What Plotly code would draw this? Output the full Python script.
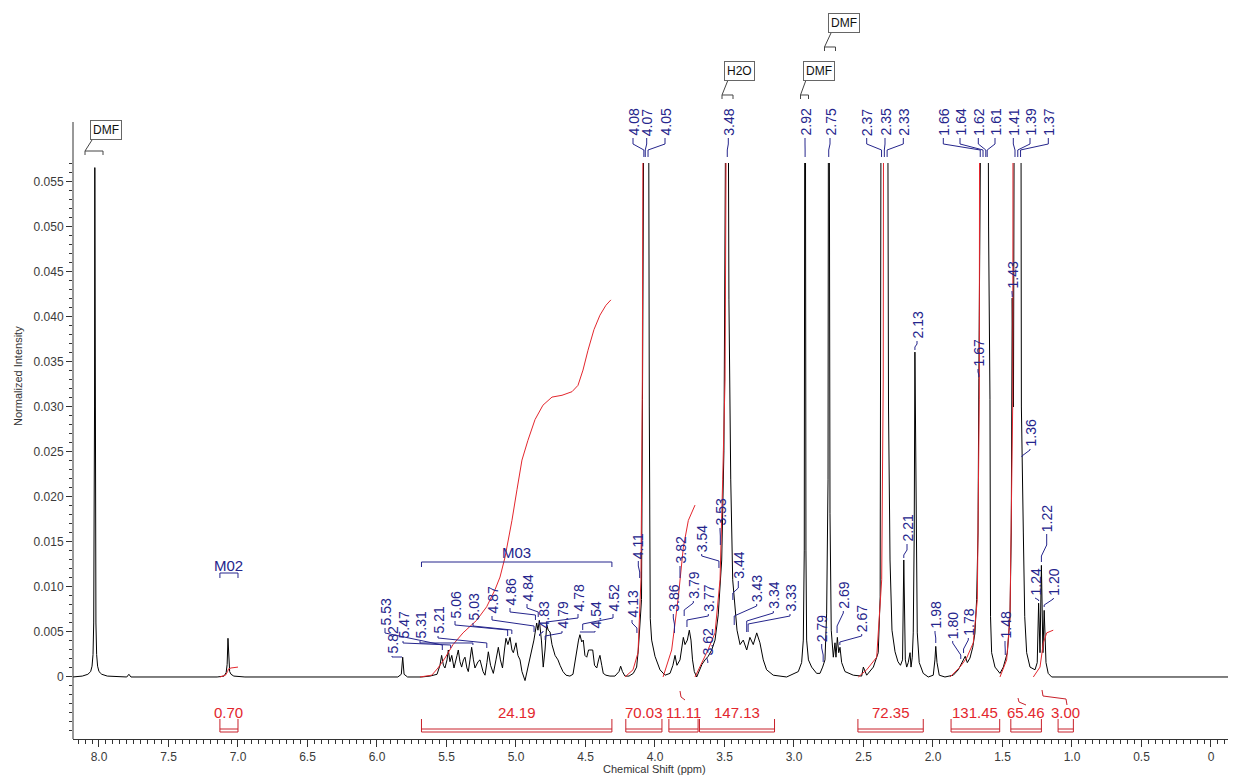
import plotly.graph_objects as go

# ---------------- data ----------------
# 1H spectrum trace (ppm, normalized intensity); tall peaks run off the top
shift_ppm = [
    8.19, 8.12, 8.08, 8.06, 8.05, 8.043, 8.038, 8.035, 8.032, 8.030, 8.028, 8.025, 8.022, 8.017, 8.010, 8.00, 7.98, 7.94,
    7.80, 7.785, 7.77,
    7.15, 7.10, 7.085, 7.078, 7.072, 7.066, 7.06, 7.05, 7.03, 6.95,
    5.85, 5.825, 5.815, 5.805, 5.78,
    5.68, 5.619, 5.568, 5.547, 5.535, 5.522, 5.511, 5.496, 5.487, 5.475,
    5.462, 5.446, 5.424, 5.415, 5.403, 5.391, 5.378, 5.367, 5.353, 5.343,
    5.331, 5.319, 5.306, 5.295, 5.273, 5.259, 5.237, 5.223, 5.209, 5.199,
    5.183, 5.163, 5.144, 5.127, 5.112, 5.097, 5.083, 5.072, 5.058, 5.043,
    5.029, 5.019, 5.000, 4.986, 4.971, 4.957, 4.935, 4.914, 4.887, 4.871,
    4.851, 4.842, 4.832, 4.817, 4.804, 4.791, 4.779, 4.768, 4.755, 4.741,
    4.719, 4.698, 4.683, 4.662, 4.640, 4.612, 4.590, 4.563, 4.550, 4.540,
    4.527, 4.516, 4.504, 4.491, 4.478, 4.468, 4.448, 4.435, 4.419, 4.406,
    4.396, 4.383, 4.372, 4.353, 4.324, 4.288, 4.259, 4.247, 4.234, 4.216,
    4.187, 4.156, 4.132, 4.120, 4.108, 4.097, 4.090, 4.080, 4.075, 4.070,
    4.061, 4.050, 4.041, 4.034, 4.024, 4.000, 3.964, 3.928,
    3.892, 3.871, 3.856, 3.842, 3.820, 3.796, 3.784, 3.767, 3.753, 3.741,
    3.730, 3.717, 3.700, 3.676, 3.662, 3.640, 3.617, 3.592, 3.568, 3.545,
    3.520, 3.504, 3.493, 3.480, 3.468, 3.455, 3.441, 3.424, 3.410, 3.388,
    3.365, 3.340, 3.317, 3.293, 3.268, 3.245, 3.221, 3.197, 3.149, 3.053,
    2.969, 2.945, 2.933, 2.926, 2.920, 2.914, 2.909, 2.896, 2.873, 2.837,
    2.813, 2.794, 2.777, 2.765, 2.755, 2.750, 2.741, 2.732, 2.717, 2.705,
    2.698, 2.688, 2.678, 2.669, 2.657, 2.633, 2.573, 2.513, 2.501, 2.477,
    2.429, 2.394, 2.380, 2.370, 2.360, 2.350, 2.340, 2.330, 2.320, 2.309,
    2.295, 2.273, 2.252, 2.234, 2.219, 2.210, 2.199, 2.189, 2.178, 2.165,
    2.158, 2.149, 2.142, 2.135, 2.130, 2.122, 2.113, 2.099, 2.070, 2.034,
    1.998, 1.986, 1.980, 1.971, 1.955, 1.914, 1.854, 1.818, 1.794, 1.782,
    1.768, 1.753, 1.734, 1.714, 1.698, 1.686, 1.676, 1.670, 1.665, 1.660,
    1.651, 1.640, 1.630, 1.620, 1.615, 1.610, 1.600, 1.590, 1.586, 1.578,
    1.554, 1.518, 1.494, 1.482, 1.465, 1.446, 1.437, 1.430, 1.421, 1.410,
    1.400, 1.390, 1.380, 1.370, 1.364, 1.360, 1.350, 1.340, 1.326, 1.302,
    1.266, 1.250, 1.240, 1.230, 1.220, 1.209, 1.200, 1.187, 1.171, 1.146,
    -0.18,
]
intensity = [
    0.0, 0.0001, 0.0003, 0.0006, 0.0012, 0.0025, 0.0060, 0.0130, 0.0300, 0.0566, 0.0300, 0.0130, 0.0060, 0.0025, 0.0012, 0.0006, 0.0003, 0.0001,
    0.0, 0.0003, 0.0,
    0.0, 0.0001, 0.0005, 0.0014, 0.0043, 0.0014, 0.0006, 0.0003, 0.0001, 0.0,
    0.0, 0.0003, 0.0022, 0.0003, 0.0,
    0.0, 0.0001, 0.0003, 0.0013, 0.0024, 0.0013, 0.0010, 0.0019, 0.0030, 0.0017,
    0.0024, 0.0010, 0.0024, 0.0030, 0.0017, 0.0011, 0.0019, 0.0022, 0.0010, 0.0006,
    0.0019, 0.0033, 0.0019, 0.0010, 0.0017, 0.0019, 0.0006, 0.0002, 0.0016, 0.0028,
    0.0013, 0.0004, 0.0019, 0.0033, 0.0019, 0.0010, 0.0030, 0.0043, 0.0036, 0.0044,
    0.0030, 0.0027, 0.0038, 0.0024, 0.0019, 0.0006, -0.0004, 0.0010, 0.0030, 0.0041,
    0.0060, 0.0052, 0.0063, 0.0041, 0.0011, 0.0030, 0.0058, 0.0052, 0.0050, 0.0036,
    0.0024, 0.0019, 0.0013, 0.0006, 0.0002, 0.0001, 0.0003, 0.0030, 0.0041, 0.0047,
    0.0039, 0.0041, 0.0024, 0.0022, 0.0030, 0.0030, 0.0030, 0.0013, 0.0010, 0.0019,
    0.0024, 0.0013, 0.0004, 0.0002, 0.0001, 0.0001, 0.0006, 0.0012, 0.0006, 0.0001,
    0.0001, 0.0004, 0.0011, 0.0030, 0.0058, 0.0086, 0.0308, 0.1000, 0.0750, 0.1000,
    0.0750, 0.1000, 0.0300, 0.0065, 0.0041, 0.0023, 0.0008, 0.0002,
    0.0004, 0.0013, 0.0024, 0.0013, 0.0019, 0.0044, 0.0036, 0.0041, 0.0052, 0.0041,
    0.0019, 0.0006, 0.0000, 0.0008, 0.0014, 0.0019, 0.0023, 0.0030, 0.0041, 0.0069,
    0.0130, 0.0252, 0.0419, 0.1000, 0.0419, 0.0219, 0.0108, 0.0071, 0.0052, 0.0036,
    0.0041, 0.0030, 0.0044, 0.0036, 0.0049, 0.0038, 0.0019, 0.0008, 0.0002, 0.0000,
    0.0006, 0.0016, 0.0041, 0.0141, 0.1000, 0.0141, 0.0041, 0.0019, 0.0011, 0.0004,
    0.0004, 0.0011, 0.0019, 0.0071, 0.0219, 0.1000, 0.0182, 0.0052, 0.0022, 0.0038,
    0.0022, 0.0044, 0.0027, 0.0033, 0.0016, 0.0006, 0.0002, 0.0001, 0.0011, 0.0002,
    0.0011, 0.0027, 0.0089, 0.1000, 0.0700, 0.1000, 0.0700, 0.1000, 0.0300, 0.0130,
    0.0052, 0.0028, 0.0017, 0.0013, 0.0019, 0.0130, 0.0019, 0.0011, 0.0016, 0.0027,
    0.0011, 0.0022, 0.0049, 0.0160, 0.0361, 0.0160, 0.0049, 0.0016, 0.0004, 0.0000,
    0.0002, 0.0019, 0.0034, 0.0016, 0.0002, 0.0000, 0.0002, 0.0008, 0.0016, 0.0019,
    0.0023, 0.0016, 0.0021, 0.0033, 0.0049, 0.0086, 0.0160, 0.0332, 0.0600, 0.1000,
    0.0700, 0.1000, 0.0700, 0.1000, 0.0800, 0.1000, 0.0500, 0.0308, 0.0067, 0.0027,
    0.0011, 0.0004, 0.0011, 0.0019, 0.0027, 0.0067, 0.0160, 0.0421, 0.0300, 0.1000,
    0.0700, 0.1000, 0.0700, 0.1000, 0.0300, 0.0243, 0.0160, 0.0067, 0.0027, 0.0011,
    0.0008, 0.0016, 0.0082, 0.0027, 0.0124, 0.0027, 0.0074, 0.0016, 0.0004, 0.0000,
    0.0,
]
assert len(shift_ppm) == len(intensity)

# integral (cumulative) curves
integral_curve_ppm = [
    [7.13, 7.09, 7.075, 7.068, 7.05, 7.00],
    [5.691, 5.606, 5.561, 5.511, 5.453, 5.381, 5.283, 5.211, 5.151, 5.115, 5.079, 5.055, 5.029, 4.993,
     4.957, 4.914, 4.863, 4.806, 4.741, 4.669, 4.597, 4.554, 4.518, 4.482, 4.439, 4.396, 4.353, 4.317],
    [4.216, 4.158, 4.122, 4.101, 4.091, 4.083, 4.065],
    [3.942, 3.880, 3.832, 3.796, 3.760, 3.712],
    [3.712, 3.676, 3.619, 3.568, 3.532, 3.513, 3.496, 3.482, 3.46],
    [2.537, 2.477, 2.405, 2.369, 2.358, 2.345],
    [1.878, 1.806, 1.758, 1.710, 1.681, 1.667, 1.655],
    [1.518, 1.470, 1.446, 1.426, 1.417],
    [1.278, 1.230, 1.206, 1.182, 1.135],
]
integral_curve_val = [
    [0.0, 0.0002, 0.0006, 0.0009, 0.0010, 0.0011],
    [0.0, 0.0002, 0.0010, 0.0021, 0.0036, 0.0049, 0.0063, 0.0078, 0.0097, 0.0111, 0.0133, 0.0152, 0.0174, 0.0208,
     0.0241, 0.0263, 0.0286, 0.0302, 0.0311, 0.0313, 0.0317, 0.0324, 0.0341, 0.0363, 0.0386, 0.0402, 0.0413, 0.0419],
    [0.0, 0.0008, 0.0027, 0.0108, 0.033, 0.08, 0.2],
    [0.0, 0.0030, 0.0089, 0.0144, 0.0174, 0.0191],
    [0.0, 0.0011, 0.0030, 0.0049, 0.0108, 0.0219, 0.033, 0.08, 0.2],
    [0.0, 0.0008, 0.0022, 0.0108, 0.033, 0.2],
    [0.0, 0.0011, 0.0021, 0.0038, 0.0086, 0.0308, 0.2],
    [0.0, 0.0019, 0.0067, 0.0308, 0.2],
    [0.0, 0.0011, 0.0038, 0.0049, 0.0052],
]

# integral regions
integral_from = [7.13, 5.68, 4.21, 3.90, 3.68, 2.54, 1.87, 1.44, 1.10]
integral_to = [7.00, 4.31, 3.95, 3.69, 3.14, 2.07, 1.52, 1.22, 0.99]
integral_value = ["0.70", "24.19", "70.03", "11.11", "147.13", "72.35", "131.45", "65.46", "3.00"]

# multiplet ranges
multiplet_names = ["M02", "M03"]
multiplet_from = [7.13, 5.68]
multiplet_to = [7.00, 4.31]

# solvent tags
solvent_tags = ["DMF", "H2O", "DMF", "DMF"]
solvent_ppm = [8.03, 3.48, 2.92, 2.75]

# peak pick labels (ppm)
peak_labels = ["4.08", "4.07", "4.05", "3.48", "2.92", "2.75", "2.37", "2.35", "2.33",
               "1.66", "1.64", "1.62", "1.61", "1.41", "1.39", "1.37",
               "2.21", "2.13", "1.67", "1.43", "1.36", "1.22", "1.24", "1.20", "1.48",
               "1.80", "1.78", "1.98", "2.79", "2.69", "2.67", "3.33", "3.34", "3.43",
               "3.44", "3.53", "3.54", "3.82", "3.79", "3.77", "3.86", "3.62", "4.11",
               "4.13", "5.82", "5.53", "5.47", "5.31", "5.21", "5.06", "5.03", "4.87",
               "4.86", "4.84", "4.83", "4.79", "4.78", "4.54", "4.52"]

x_tick_vals = [8.0, 7.5, 7.0, 6.5, 6.0, 5.5, 5.0, 4.5, 4.0, 3.5, 3.0, 2.5, 2.0, 1.5, 1.0, 0.5, 0.0]
x_tick_text = ["8.0", "7.5", "7.0", "6.5", "6.0", "5.5", "5.0", "4.5", "4.0", "3.5", "3.0",
               "2.5", "2.0", "1.5", "1.0", "0.5", "0"]
y_tick_vals = [0, 0.005, 0.010, 0.015, 0.020, 0.025, 0.030, 0.035, 0.040, 0.045, 0.050, 0.055]
y_tick_text = ["0", "0.005", "0.010", "0.015", "0.020", "0.025", "0.030", "0.035", "0.040",
               "0.045", "0.050", "0.055"]

# ---------------- layout geometry ----------------
# the page body adds an 8 px offset; all pixel positions below are screen pixels
OFF = 8
SCREEN_W, SCREEN_H = 1236, 777
W, H = SCREEN_W - OFF, SCREEN_H - OFF
PLOT_L, PLOT_R, PLOT_T, PLOT_B = 73, 1236, 163, 739      # screen pixels of the data area
ML, MR, MT, MB = PLOT_L - OFF, SCREEN_W - PLOT_R, PLOT_T - OFF, SCREEN_H - PLOT_B
XR = [8.187, -0.180]
YR = [-0.00689, 0.05711]

def ppm_at(xpx):
    return XR[0] + (xpx - PLOT_L) / (PLOT_R - PLOT_L) * (XR[1] - XR[0])

def py(ypx):
    return (PLOT_B - ypx) / (PLOT_B - PLOT_T)

def pxp(xpx):
    return (xpx - PLOT_L) / (PLOT_R - PLOT_L)

# label text position: text x, text bottom, knee y, bend y, end y (screen pixels)
label_pos = {
    "4.08": (633, 137, 144, 150, 157), "4.07": (646.7, 137, 144, 150, 157),
    "4.05": (665, 137, 144, 150, 157), "3.48": (728.3, 137, 144, 150, 157),
    "2.92": (805, 137, 144, 150, 157), "2.75": (830, 137, 144, 150, 157),
    "2.37": (866.7, 137, 144, 150, 157), "2.35": (885, 137, 144, 150, 157),
    "2.33": (903.3, 137, 144, 150, 157), "1.66": (943.3, 137, 144, 150, 157),
    "1.64": (960, 137, 144, 150, 157), "1.62": (978.3, 137, 144, 150, 157),
    "1.61": (995, 137, 144, 150, 157), "1.41": (1013.3, 137, 144, 150, 157),
    "1.39": (1030, 137, 144, 150, 157), "1.37": (1048.3, 137, 144, 150, 157),
    "2.21": (907, 543, 550, 555, 558), "2.13": (917, 340, 344, 347, 350),
    "1.67": (978, 368, 372, 375, 377), "1.43": (1012, 290, 293, 295, 297),
    "1.36": (1030, 448, 450, 456, 457), "1.22": (1046.7, 533, 545, 556, 562),
    "1.24": (1035, 597, 598, 600, 601), "1.20": (1053.3, 597, 599, 605, 607),
    "1.48": (1005, 640, 645, 650, 655), "1.80": (952.7, 640, 643, 655, 659),
    "1.78": (968.3, 637, 640, 649, 653), "1.98": (935, 630, 633, 638, 643),
    "2.79": (821.7, 643, 648, 655, 662), "2.69": (843.3, 610, 613, 626, 633),
    "2.67": (861.7, 633, 636, 642, 645), "3.33": (790, 613, 616, 624, 632),
    "3.34": (773.3, 610, 613, 621, 632), "3.43": (756.7, 603, 606, 616, 625),
    "3.44": (738.3, 580, 588, 593, 600), "3.53": (720, 527, 530, 536, 545),
    "3.54": (701.7, 553, 556, 561, 568), "3.82": (680, 565, 570, 574, 578),
    "3.79": (693.3, 600, 603, 610, 616), "3.77": (708.3, 613, 616, 620, 627),
    "3.86": (673.3, 613, 618, 624, 633), "3.62": (707, 657, 659, 661, 663),
    "4.11": (638.3, 560, 566, 572, 578), "4.13": (632, 619, 623, 628, 633),
    "5.82": (392, 655, 657, 657, 657), "5.53": (385, 627, 633, 645, 650),
    "5.47": (403, 640, 643, 645, 648), "5.31": (420, 640, 643, 643, 645),
    "5.21": (438, 635, 638, 643, 648), "5.06": (455, 620, 625, 630, 636),
    "5.03": (473, 622, 626, 630, 634), "4.87": (492, 615, 620, 626, 632),
    "4.86": (510, 607, 612, 615, 620), "4.84": (527, 603, 608, 612, 617),
    "4.83": (543, 630, 632, 634, 636), "4.79": (562, 630, 633, 636, 640),
    "4.78": (578, 613, 618, 622, 627), "4.54": (595, 630, 632, 632, 632),
    "4.52": (613, 613, 618, 624, 630),
}

NAVY = "#25258c"
RED = "#e3262d"
REDDARK = "#c8202a"
AXC = "#333333"
FONT = "Liberation Sans, Arial, sans-serif"

fig = go.Figure()
fig.add_trace(go.Scatter(x=shift_ppm, y=intensity, mode="lines",
                         line=dict(color="black", width=1), hoverinfo="skip"))
for cx, cy in zip(integral_curve_ppm, integral_curve_val):
    fig.add_trace(go.Scatter(x=cx, y=cy, mode="lines",
                             line=dict(color=RED, width=1), hoverinfo="skip"))

shapes = []
annotations = []

def path_shape(points, color, width=1, xref="x"):
    d = "M " + " L ".join(f"{x:.5f},{y:.5f}" for x, y in points)
    return dict(type="path", path=d, xref=xref, yref="paper",
                line=dict(color=color, width=width), layer="above")

# y axis line extends above the clipped data area
shapes.append(dict(type="line", xref="paper", yref="paper", x0=0, x1=0, y0=0, y1=py(122),
                   line=dict(color=AXC, width=1)))

# peak labels with leaders
for lab in peak_labels:
    tx, tb, y1, y2, y3 = label_pos[lab]
    xt = ppm_at(tx)
    xp = float(lab)
    annotations.append(dict(x=xt, y=py(tb), xref="x", yref="paper", text=lab, textangle=-90,
                            showarrow=False, xanchor="center", yanchor="bottom", borderpad=0,
                            font=dict(family=FONT, size=14, color=NAVY)))
    shapes.append(path_shape([(xt, py(tb + 1)), (xt, py(y1)), (xp, py(y2)), (xp, py(y3))], NAVY))

# multiplet markers
mult_y = {"M02": (565, 573, 578), "M03": (552, 562, 567)}
for name, a, b in zip(multiplet_names, multiplet_from, multiplet_to):
    ty, ly, ey = mult_y[name]
    annotations.append(dict(x=(a + b) / 2, y=py(ty), xref="x", yref="paper", text=name,
                            showarrow=False, xanchor="center", yanchor="middle",
                            font=dict(family=FONT, size=15, color=NAVY)))
    shapes.append(path_shape([(a, py(ey)), (a, py(ly)), (b, py(ly)), (b, py(ey))], NAVY))

# solvent tags: box centre, pointer start, bracket left/right/top (screen pixels)
tag_geom = [
    (106, 130, 92, 140, 85, 103, 151),
    (739.5, 71, 728, 80, 722, 733, 95),
    (819, 71, 806, 80, 800.5, 808.5, 95),
    (843.5, 23, 831, 33, 824.5, 835.5, 47),
]
for tag, ppm, g in zip(solvent_tags, solvent_ppm, tag_geom):
    bx, by, pxs, pys, bl, br, bt = g
    annotations.append(dict(x=ppm_at(bx), y=py(by), xref="x", yref="paper", text=tag,
                            showarrow=False, xanchor="center", yanchor="middle",
                            bordercolor="#666666", borderwidth=1, borderpad=2, bgcolor="white",
                            font=dict(family=FONT, size=12, color="#111111")))
    shapes.append(path_shape([(ppm_at(pxs), py(pys)), (ppm_at(bl), py(bt))], "#444444"))
    shapes.append(path_shape([(ppm_at(bl), py(bt + 4)), (ppm_at(bl), py(bt)),
                              (ppm_at(br), py(bt)), (ppm_at(br), py(bt + 4))], "#444444"))

# integral brackets and values
for a, b, v in zip(integral_from, integral_to, integral_value):
    shapes.append(path_shape([(a, py(719)), (a, py(732)), (b, py(732)), (b, py(719))], REDDARK))
    shapes.append(path_shape([(a, py(729)), (b, py(729))], REDDARK))
    annotations.append(dict(x=(a + b) / 2, y=py(712), xref="x", yref="paper", text=v,
                            showarrow=False, xanchor="center", yanchor="middle", borderpad=0,
                            font=dict(family=FONT, size=15, color=RED)))
# small connectors near some integral labels
for pts in [[(680, 691), (681, 697), (685, 700)],
            [(1018, 698), (1019, 702), (1026, 705)],
            [(1042, 690), (1043, 696), (1066, 699), (1067, 705)]]:
    shapes.append(path_shape([(ppm_at(x), py(y)) for x, y in pts], REDDARK))

# axis titles
annotations.append(dict(x=0.5, y=py(769), xref="paper", yref="paper", text="Chemical Shift (ppm)",
                        showarrow=False, xanchor="center", yanchor="middle",
                        font=dict(family=FONT, size=11, color=AXC)))
annotations.append(dict(x=pxp(18), y=py(376), xref="paper", yref="paper",
                        text="Normalized Intensity", textangle=-90, showarrow=False,
                        xanchor="center", yanchor="middle",
                        font=dict(family=FONT, size=11, color=AXC)))

fig.update_layout(
    width=W, height=H,
    margin=dict(l=ML, r=MR, t=MT, b=MB, pad=0, autoexpand=False),
    paper_bgcolor="white", plot_bgcolor="white",
    showlegend=False,
    shapes=shapes, annotations=annotations,
    xaxis=dict(range=XR, showgrid=False, zeroline=False, showline=True, linecolor=AXC, linewidth=1,
               ticks="outside", ticklen=7, tickcolor=AXC, tickwidth=1, automargin=False,
               tickmode="array", tickvals=x_tick_vals, ticktext=x_tick_text,
               tickfont=dict(family=FONT, size=12, color="#3a3a3a"),
               minor=dict(tickmode="linear", tick0=0, dtick=0.05, ticks="outside", ticklen=4,
                          tickcolor=AXC, showgrid=False)),
    yaxis=dict(range=YR, showgrid=False, zeroline=False, showline=False, automargin=False,
               ticks="outside", ticklen=6, tickcolor=AXC, tickwidth=1,
               tickmode="array", tickvals=y_tick_vals, ticktext=y_tick_text,
               tickfont=dict(family=FONT, size=12, color="#3a3a3a"),
               minor=dict(tickmode="linear", tick0=0, dtick=0.001, ticks="outside", ticklen=3,
                          tickcolor=AXC, showgrid=False)),
)

fig.write_html("out.html")
